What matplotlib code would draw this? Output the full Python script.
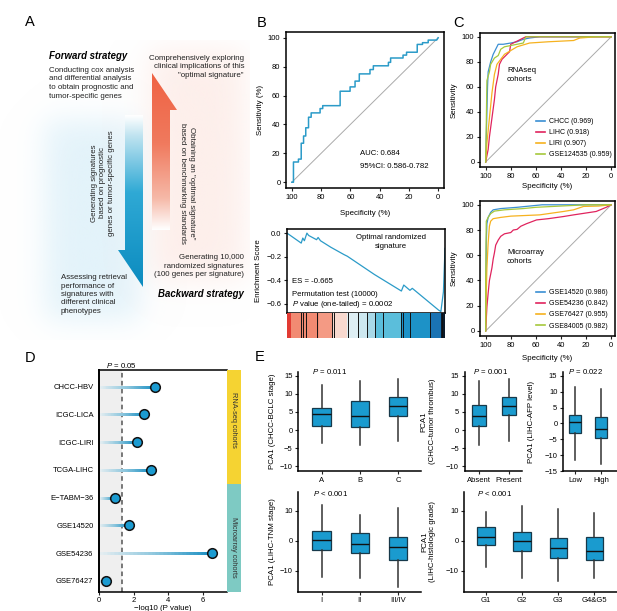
import numpy as np
import matplotlib
matplotlib.use('Agg')
import matplotlib.pyplot as plt
from matplotlib.patches import Polygon
from matplotlib.colors import to_rgb, LinearSegmentedColormap
from matplotlib.lines import Line2D

plt.rcParams['font.family'] = ['Liberation Sans', 'DejaVu Sans']
plt.rcParams['mathtext.fontset'] = 'custom'
plt.rcParams['mathtext.rm'] = 'Liberation Sans'
plt.rcParams['mathtext.it'] = 'Liberation Sans:italic'

W, H = 617, 611

# ---- data ----
# B: ROC of the optimal signature (specificity, sensitivity)
rocB_spec = [100, 98.9, 98.9, 95.5, 95.5, 93.6, 93.6, 92.0, 92.0, 90.5, 90.5, 88.6, 88.6, 86.8, 86.8,
             80.7, 80.7, 78.9, 78.9, 67.0, 67.0, 60.2, 60.2, 56.8, 56.8, 53.9, 53.9, 46.6, 46.6, 44.3,
             44.3, 34.0, 34.0, 32.5, 32.5, 24.0, 24.0, 21.6, 21.6, 14.3, 14.3, 10.7, 10.7, 6.8, 6.8, 1.0, 0]
rocB_sens = [0, 0, 14, 14, 16, 16, 27, 27, 32, 32, 37.7, 37.7, 45, 45, 48,
             48, 51, 51, 53, 53, 63, 63, 66, 66, 70, 70, 75, 75, 78, 78,
             80.6, 80.6, 83, 83, 86, 86, 88, 88, 90, 90, 95.4, 95.4, 96.6, 96.6, 98.4, 98.4, 100]
aucB = 'AUC: 0.684'
ciB = '95%CI: 0.586-0.782'

# B: GSEA running enrichment score
es_x = [0, 0.09, 0.10, 0.11, 0.126, 0.137, 0.187, 0.197, 0.212, 0.277, 0.361, 0.382, 0.553,
        0.724, 0.739, 0.778, 0.793, 0.96, 0.974, 0.99, 1.0]
es_y = [0, -0.085, -0.042, -0.065, 0, -0.02, -0.056, -0.037, -0.065, -0.12, -0.183, -0.197, -0.352,
        -0.493, -0.442, -0.487, -0.470, -0.656, -0.667, -0.5, -0.13]
hits = [0.089, 0.10, 0.118, 0.188, 0.283, 0.30, 0.388, 0.451, 0.504, 0.557, 0.61, 0.72, 0.737,
        0.778, 0.905, 0.98]
bar_edges = [0, 0.025, 0.20, 0.283, 0.378, 0.45, 0.504, 0.557, 0.72, 0.91, 0.975, 1.0]
bar_cols = ['#e23b33', '#f28a72', '#f49a84', '#f8d9cf', '#deeff4', '#cde8f0', '#a9d9e8',
            '#5bbedb', '#1d92c7', '#1a73b3', '#0b1a2a']

# C: ROC curves
rna_names = ['CHCC (0.969)', 'LIHC (0.918)', 'LIRI (0.907)', 'GSE124535 (0.959)']
rna_spec = [
    [100, 99, 98.5, 98, 96, 94, 92, 90, 86, 80, 75, 70, 65, 57, 0],
    [100, 98, 97, 95, 93, 92, 90, 89, 87, 85, 83, 81, 80, 76, 72, 68, 0],
    [100, 99, 97, 95, 93, 91, 88, 85, 80, 75, 65, 50, 30, 25, 12, 0],
    [100, 99.5, 99, 97, 96, 93, 90, 88, 85, 80, 70, 68, 0],
]
rna_sens = [
    [0, 40, 60, 72, 80, 86, 90, 94, 94, 95, 96, 98, 99, 100, 100],
    [0, 10, 20, 35, 50, 60, 70, 78, 82, 84, 86, 88, 94, 96, 98, 100, 100],
    [0, 15, 35, 55, 70, 78, 82, 86, 89, 92, 95, 96, 97, 99, 100, 100],
    [0, 30, 65, 72, 78, 83, 85, 90, 92, 93, 95, 100, 100],
]
micro_names = ['GSE14520 (0.986)', 'GSE54236 (0.842)', 'GSE76427 (0.955)', 'GSE84005 (0.982)']
micro_spec = [
    [100, 99.5, 99, 98, 96, 94, 88, 75, 65, 55, 0],
    [100, 99, 98, 97, 96, 95, 94, 93, 92, 90, 88, 85, 80, 78, 75, 72, 67.5, 59.5, 50, 38, 30, 20, 12, 4, 0],
    [100, 99.5, 99, 98, 97, 96, 94, 88, 80, 57, 38, 30, 22, 10, 0],
    [100, 100, 99.5, 98, 96, 93, 85, 70, 60, 40, 20, 0],
]
micro_sens = [
    [0, 70, 85, 90, 94, 96, 97, 98, 99, 100, 100],
    [0, 19, 30, 40, 45, 50, 57, 62, 68, 72, 75, 77, 78, 80, 80.5, 83, 85, 88, 89, 90.7, 92, 93.5, 94.7, 98, 100],
    [0, 30, 50, 70, 83, 87, 89, 90, 91, 92, 94.7, 96, 98.7, 99, 100],
    [0, 40, 87, 90, 93, 95, 96, 97, 98, 99, 100, 100],
]
roc_cols = ['#3a8fd3', '#e0245e', '#f6b21f', '#a6c83c']

# D: lollipop of -log10 P
cohorts = ['CHCC-HBV', 'ICGC-LICA', 'ICGC-LIRI', 'TCGA-LIHC', 'E\u2212TABM\u221236',
           'GSE14520', 'GSE54236', 'GSE76427']
neglogp = [3.24, 2.62, 2.17, 3.0, 0.91, 1.75, 6.53, 0.39]
n_rnaseq = 4

# E: boxplot statistics (q1, median, q3, whisker low, whisker high)
box_sets = [
    dict(groups=['A', 'B', 'C'], ylabel='PCA1 (CHCC-BCLC stage)', p='0.011', eq='=',
         q1=[1.2, 0.9, 3.9], med=[4.5, 3.9, 6.5], q3=[6.0, 7.9, 9.2], lo=[-3.5, -4.1, -2.9], hi=[12.4, 13.5, 14.0]),
    dict(groups=['Absent', 'Present'], ylabel='PCA1\n(CHCC-tumor thrombus)', p='0.001', eq='=',
         q1=[1.2, 4.2], med=[4.0, 6.6], q3=[6.8, 9.2], lo=[-4.2, -3.0], hi=[13.5, 14.0]),
    dict(groups=['Low', 'High'], ylabel='PCA1 (LIHC-AFP level)', p='0.022', eq='=',
         q1=[-3.0, -4.7], med=[0.3, -1.7], q3=[2.6, 2.0], lo=[-11.4, -12.9], hi=[11.5, 10.9]),
    dict(groups=['I', 'II', 'III/IV'], ylabel='PCA1 (LIHC-TNM stage)', p='0.001', eq='<',
         q1=[-3.1, -4.0, -6.3], med=[0.1, -1.2, -2.0], q3=[3.2, 2.7, 1.1], lo=[-12.0, -12.5, -15.3], hi=[11.9, 8.6, 11.0]),
    dict(groups=['G1', 'G2', 'G3', 'G4&G5'], ylabel='PCA1\n(LIHC-histologic grade)', p='0.001', eq='<',
         q1=[-1.4, -3.4, -5.7, -6.4], med=[1.1, 0.0, -2.3, -3.4], q3=[4.4, 2.8, 1.0, 1.3],
         lo=[-8.8, -12.3, -13.4, -12.3], hi=[9.5, 11.6, 10.4, 9.3]),
]

TICK = 5.5
LAB = 5.7
ANN = 5.6


def px(l, t, r, b):
    return [l / W, 1 - b / H, (r - l) / W, (b - t) / H]


def style_ticks(ax):
    ax.tick_params(labelsize=TICK, length=2.5, width=0.8, pad=1.5, color='#222')
    for s in ax.spines.values():
        s.set_linewidth(1.1)


fig = plt.figure(figsize=(W / 100, H / 100), dpi=100)

for lab, x, y in [('A', 30, 22), ('B', 262, 23), ('C', 458, 23), ('D', 30, 358), ('E', 260, 357)]:
    fig.text(x / W, 1 - y / H, lab, fontsize=10.5, ha='center', va='center')

# ---- A: schematic ----
axA = fig.add_axes(px(0, 40, 250, 340))
axA.set_xlim(0, 250)
axA.set_ylim(340, 40)
axA.axis('off')
xs = np.linspace(0, 250, 251)
ys = np.linspace(40, 340, 301)
X, Y = np.meshgrid(xs, ys)


def sig(t):
    return 1 / (1 + np.exp(-t))


def glow(x0, x1, y0, y1, col, soft, amax):
    a = amax * sig((X - x0) / soft) * sig((x1 - X) / soft) * sig((Y - y0) / soft) * sig((y1 - Y) / soft)
    img = np.zeros(X.shape + (4,))
    img[..., :3] = to_rgb(col)
    img[..., 3] = a
    axA.imshow(img, extent=(0, 250, 340, 40), origin='upper', aspect='auto', zorder=0)


glow(45, 140, 120, 320, '#dcf0f9', 9, 0.8)
glow(150, 245, 50, 280, '#fdebe6', 9, 0.8)


def grad_arrow(pts, ytop, ybot, stops):
    poly = Polygon(pts, closed=True, facecolor='none', edgecolor='none')
    axA.add_patch(poly)
    yy = np.linspace(ytop, ybot, 200)
    img = np.zeros((200, 2, 4))
    for i, yv in enumerate(yy):
        f = (yv - ytop) / (ybot - ytop)
        for (f0, c0), (f1, c1) in zip(stops[:-1], stops[1:]):
            if f0 <= f <= f1:
                w = (f - f0) / (f1 - f0)
                img[i, :, :3] = np.array(to_rgb(c0)) * (1 - w) + np.array(to_rgb(c1)) * w
                img[i, :, 3] = 1
    xsp = [p[0] for p in pts]
    im = axA.imshow(img, extent=(min(xsp), max(xsp), ybot, ytop), origin='upper', aspect='auto', zorder=2)
    im.set_clip_path(poly)


grad_arrow([(125, 115), (143, 115), (143, 287), (118, 250), (125, 250)], 115, 287,
           [(0, '#ffffff'), (0.12, '#bfe3f0'), (0.45, '#2fa9d5'), (1, '#0b8bbf')])
grad_arrow([(152, 73), (177, 110), (170, 110), (170, 230), (152, 230)], 73, 230,
           [(0, '#ef6243'), (0.45, '#f07a5e'), (0.8, '#f6b9a8'), (1, '#ffffff')])

tk = dict(fontsize=5.7, color='#222', linespacing=1.3)
axA.text(49, 56, 'Forward strategy', fontsize=6.9, fontweight='bold', fontstyle='italic', va='center')
axA.text(49, 67, 'Conducting cox analysis\nand differential analysis\nto obtain prognostic and\ntumor-specific genes',
         va='top', **tk)
axA.text(244, 55, 'Comprehensively exploring\nclinical implications of this\n"optimal signature"',
         va='top', ha='right', multialignment='right', **tk)
axA.text(103, 183, 'Generating signatures\nbased on prognostic\ngenes or tumor-specific genes',
         rotation=90, ha='center', va='center', multialignment='center', **tk)
axA.text(187, 183, 'Obtaining an "optimal signature"\nbased on benchmarking standards',
         rotation=270, ha='center', va='center', multialignment='center', **tk)
axA.text(244, 254, 'Generating 10,000\nrandomized signatures\n(100 genes per signature)',
         va='top', ha='right', multialignment='right', **tk)
axA.text(244, 294, 'Backward strategy', fontsize=6.9, fontweight='bold', fontstyle='italic',
         va='center', ha='right')
axA.text(61, 274, 'Assessing retrieval\nperformance of\nsignatures with\ndifferent clinical\nphenotypes',
         va='top', **tk)

# ---- B: ROC ----
axB = fig.add_axes(px(286, 32, 444, 188))
axB.plot([100, 0], [0, 100], color='#aaaaaa', lw=0.7)
axB.plot(rocB_spec, rocB_sens, color='#2b9bc8', lw=1.1)
axB.set_xlim(104, -4)
axB.set_ylim(-4, 104)
axB.set_xticks([100, 80, 60, 40, 20, 0])
axB.set_yticks([0, 20, 40, 60, 80, 100])
axB.set_xlabel('Specificity (%)', fontsize=LAB)
axB.set_ylabel('Sensitivity (%)', fontsize=LAB)
axB.xaxis.set_label_coords(0.5, -0.141)
axB.yaxis.set_label_coords(-0.139, 0.5)
axB.text(0.468, 0.218, aucB, transform=axB.transAxes, fontsize=ANN, va='center')
axB.text(0.468, 0.135, ciB, transform=axB.transAxes, fontsize=ANN, va='center')
style_ticks(axB)

# ---- B: GSEA ----
axG = fig.add_axes(px(287, 229, 445, 313))
axG.plot(es_x, es_y, color='#2b9bc8', lw=0.9)
axG.set_xlim(0, 1)
axG.set_ylim(-0.68, 0.035)
axG.set_xticks([])
axG.set_yticks([0, -0.2, -0.4, -0.6])
axG.set_yticklabels(['0.0', '\u22120.2', '\u22120.4', '\u22120.6'])
axG.set_ylabel('Enrichment Score', fontsize=LAB)
axG.yaxis.set_label_coords(-0.16, 0.5)
axG.text(0.658, 0.94, 'Optimal randomized\nsignature', transform=axG.transAxes, fontsize=ANN,
         ha='center', va='top', multialignment='center', linespacing=1.3)
axG.text(0.032, 0.37, 'ES = -0.665', transform=axG.transAxes, fontsize=ANN, va='center')
axG.text(0.032, 0.226, 'Permutation test (10000)', transform=axG.transAxes, fontsize=ANN, va='center')
axG.text(0.032, 0.107, r'$\it{P}$ value (one-tailed) = 0.0002', transform=axG.transAxes, fontsize=ANN,
         va='center')
style_ticks(axG)

axBar = fig.add_axes(px(287, 313, 445, 338))
for e0, e1, c in zip(bar_edges[:-1], bar_edges[1:], bar_cols):
    axBar.axvspan(e0, e1, color=c, lw=0)
for h in hits:
    axBar.axvline(h, color='#111', lw=0.7)
axBar.set_xlim(0, 1)
axBar.axis('off')

# ---- C: ROC panels ----
for box, names, specs, senss, tag, lx, ly, ty in [
        ((480, 33, 615, 167), rna_names, rna_spec, rna_sens, 'RNAseq\ncohorts', -0.12, 0.366, 0.746),
        ((480, 201, 615, 336), micro_names, micro_spec, micro_sens, 'Microarray\ncohorts', -0.14, 0.348, 0.644)]:
    ax = fig.add_axes(px(*box))
    ax.plot([100, 0], [0, 100], color='#aaaaaa', lw=0.7)
    handles = []
    for sp, se, c in zip(specs, senss, roc_cols):
        ax.plot(sp, se, color=c, lw=0.9)
        handles.append(Line2D([0], [0], color=c, lw=1.2))
    ax.set_xlim(104.5, -3)
    ax.set_ylim(-4, 103)
    ax.set_xticks([100, 80, 60, 40, 20, 0])
    ax.set_yticks([0, 20, 40, 60, 80, 100])
    ax.set_xlabel('Specificity (%)', fontsize=LAB)
    ax.set_ylabel('Sensitivity', fontsize=LAB)
    ax.xaxis.set_label_coords(0.5, lx)
    ax.yaxis.set_label_coords(-0.163, 0.5)
    ax.text(0.2, ty, tag, transform=ax.transAxes, fontsize=ANN, va='top', linespacing=1.3)
    ax.legend(handles, names, loc='upper left', bbox_to_anchor=(0.415, ly), frameon=False,
              fontsize=5.0, handlelength=1.3, handletextpad=0.5, labelspacing=0.6,
              borderpad=0, borderaxespad=0)
    style_ticks(ax)

# ---- D: lollipop ----
axD = fig.add_axes(px(99, 370, 227, 592))
axD.axvspan(0, 1.301, color='#efefef', lw=0, zorder=0)
axD.axvline(1.301, color='#555555', lw=1.1, ls=(0, (3, 2.2)), zorder=1)
lcmap = LinearSegmentedColormap.from_list('lol', ['#e3edf1', '#8cc6dd', '#1a8fc3'])
for i, v in enumerate(neglogp):
    starts = np.linspace(0, v, 30, endpoint=False)
    cols = lcmap(np.linspace(0, 1, len(starts)))
    for s0, c in zip(starts, cols):
        axD.plot([s0, v], [i, i], color=c, lw=2.0, solid_capstyle='butt', zorder=2)
axD.scatter(neglogp, range(len(cohorts)), s=48, c='#1b9bd1', edgecolors='#111111',
            linewidths=1.1, zorder=3)
axD.set_xlim(0, 7.4)
axD.set_ylim(7.4, -0.6)
axD.set_yticks(range(len(cohorts)))
axD.set_yticklabels(cohorts)
axD.set_xticks([0, 2, 4, 6])
axD.set_xlabel('\u2212log10 (P value)', fontsize=LAB)
axD.xaxis.set_label_coords(0.5, -0.058)
axD.spines['right'].set_visible(False)
style_ticks(axD)
axD.tick_params(axis='x', pad=0.8)
axD.tick_params(axis='y', length=0, pad=4)
axD.spines['left'].set_linewidth(1.4)
axD.text(1.301, -0.78, r'$\it{P}$ = 0.05', fontsize=ANN, ha='center', va='center')

axS = fig.add_axes(px(227, 370, 241, 592))
axS.set_ylim(7.4, -0.6)
axS.set_xlim(0, 1)
axS.axhspan(-0.6, n_rnaseq - 0.5, color='#f5d332', lw=0)
axS.axhspan(n_rnaseq - 0.5, 7.4, color='#7ecac3', lw=0)
axS.text(0.5, (n_rnaseq - 1) / 2 - 0.3, 'RNA-seq cohorts', rotation=270, fontsize=5.3,
         ha='center', va='center', color='#333')
axS.text(0.5, (n_rnaseq + 7) / 2 + 0.3, 'Microarray cohorts', rotation=270, fontsize=5.3,
         ha='center', va='center', color='#333')
axS.axis('off')

# ---- E: boxplots ----
e_boxes = [((298.3, 372, 421, 471), (-0.61, 2.6), (-11.3, 16.0), [-10, -5, 0, 5, 10, 15], -0.184, 0.11, 1.01),
           ((464.5, 372, 522, 471), (-0.48, 1.43), (-11.3, 16.0), [-10, -5, 0, 5, 10, 15], -0.50, 0.153, 1.01),
           ((563, 372, 617, 471), (-0.46, 1.62), (-15, 16.2), [-15, -10, -5, 0, 5, 10, 15], -0.52, 0.10, 1.01),
           ((298.3, 491.7, 421, 591.7), (-0.61, 2.6), (-17, 16.3), [-10, 0, 10], -0.184, 0.122, 0.977),
           ((464, 491.7, 617, 591.7), (-0.61, 3.63), (-17, 16.3), [-10, 0, 10], -0.183, 0.087, 0.977)]
for d, (box, xl, yl, yt, ylx, ptx, pty) in zip(box_sets, e_boxes):
    ax = fig.add_axes(px(*box))
    stats = [dict(q1=a, med=b, q3=c, whislo=lo, whishi=hi, fliers=[])
             for a, b, c, lo, hi in zip(d['q1'], d['med'], d['q3'], d['lo'], d['hi'])]
    ax.bxp(stats, positions=range(len(stats)), widths=0.48, patch_artist=True, showcaps=False,
           boxprops=dict(facecolor='#1a9bcf', edgecolor='#17394a', lw=0.9),
           medianprops=dict(color='#111111', lw=1.0),
           whiskerprops=dict(color='#333333', lw=1.1))
    ax.set_xticks(range(len(stats)))
    ax.set_xticklabels(d['groups'])
    ax.set_xlim(*xl)
    ax.set_ylim(*yl)
    ax.set_yticks(yt)
    ax.spines['top'].set_visible(False)
    ax.spines['right'].set_visible(False)
    ax.set_ylabel(d['ylabel'], fontsize=LAB, multialignment='center')
    ax.yaxis.set_label_coords(ylx, 0.5)
    ax.text(ptx, pty, r'$\it{P}$ ' + d['eq'] + ' ' + d['p'], transform=ax.transAxes, fontsize=ANN,
            va='center')
    style_ticks(ax)

fig.savefig('out.png', dpi=100)
